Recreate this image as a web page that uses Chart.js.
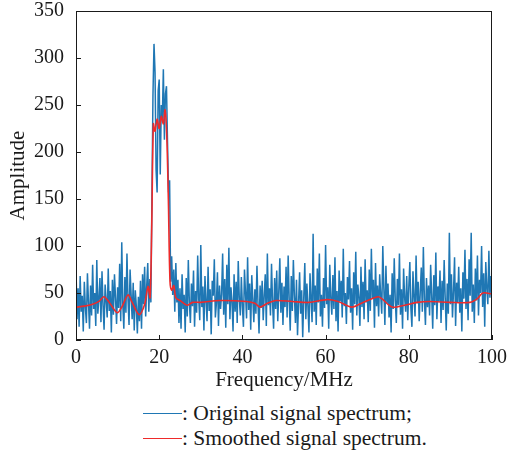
<!DOCTYPE html>
<html>
<head>
<meta charset="utf-8">
<script src="https://cdn.jsdelivr.net/npm/chart.js"></script>
<style>
  body { margin: 0; background: #fff; }
  #wrap { position: relative; width: 508px; height: 452px; overflow: hidden; font-family: "Liberation Serif", "Times New Roman", serif; color: #1a1a1a; }
  #spectrum { position: absolute; left: 0; top: -5px; }
  #legend { position: absolute; left: 143px; top: 401px; font-size: 21.5px; line-height: 25px; }
  .item { display: flex; align-items: center; white-space: nowrap; }
  .swatch { width: 39px; height: 0; border-top: 1.5px solid; }
</style>
</head>
<body>
<div id="wrap">
  <canvas id="spectrum" width="508" height="400"></canvas>
  <div id="legend"></div>
</div>
<script>
// sample spacing of the original spectrum (MHz)
const STEP = 0.25;

// original spectrum, 0 .. 100 MHz
const originalAmp = [
  78, 22, 55, 14, 68, 30, 47, 9, 62, 35, 18, 71, 40, 12, 58, 26, 80, 33, 50, 15,
  85, 28, 44, 66, 19, 73, 37, 11, 59, 42, 24, 76, 31, 52, 8, 64, 27, 70, 45, 17,
  56, 34, 81, 20, 104, 38, 12, 67, 29, 92, 43, 16, 75, 48, 22, 61, 10, 53, 36, 7,
  46, 20, 63, 12, 70, 38, 78, 25, 58, 82, 30, 65, 40, 150, 260, 315, 285, 181, 157, 265,
  277, 176, 250, 235, 288, 213, 262, 270, 210, 157, 170, 62, 89, 48, 75, 30, 82, 40, 64, 18,
  55, 12, 70, 33, 48, 8, 66, 25, 85, 40, 18, 60, 36, 74, 14, 52, 29, 90, 44, 21,
  101, 35, 57, 10, 68, 42, 20, 78, 31, 54, 6, 63, 47, 86, 24, 39, 72, 15, 58, 33,
  49, 92, 27, 65, 13, 80, 38, 98, 22, 56, 41, 9, 70, 30, 62, 18, 84, 45, 26, 67,
  36, 14, 75, 50, 23, 88, 32, 60, 11, 69, 44, 19, 54, 28, 79, 38, 7, 58, 34, 63,
  21, 48, 70, 15, 92, 37, 55, 26, 81, 40, 12, 66, 33, 74, 20, 52, 87, 29, 61, 16,
  57, 35, 78, 24, 90, 43, 10, 68, 31, 85, 47, 18, 64, 5, 39, 72, 28, 53, 3, 45,
  82, 22, 60, 36, 8, 71, 44, 19, 113, 30, 58, 16, 76, 40, 92, 25, 48, 14, 66, 34,
  101, 38, 56, 12, 80, 45, 27, 69, 33, 88, 20, 52, 9, 74, 41, 63, 24, 97, 36, 50,
  17, 67, 43, 84, 29, 55, 11, 72, 38, 94, 26, 59, 46, 15, 78, 35, 62, 22, 86, 40,
  53, 19, 75, 31, 97, 44, 64, 13, 82, 36, 58, 25, 70, 47, 28, 100, 55, 16, 79, 39,
  60, 24, 48, 8, 71, 33, 87, 42, 18, 65, 37, 92, 27, 54, 12, 76, 45, 30, 68, 21,
  56, 83, 34, 14, 73, 46, 25, 90, 39, 62, 20, 51, 77, 30, 99, 43, 16, 66, 35, 58,
  26, 80, 48, 12, 69, 37, 93, 22, 57, 41, 74, 18, 63, 32, 85, 45, 10, 60, 28, 114,
  38, 70, 24, 52, 88, 15, 61, 40, 78, 29, 55, 9, 72, 44, 96, 33, 65, 21, 86, 47,
  114, 30, 59, 18, 76, 42, 90, 26, 64, 50, 100, 35, 71, 14, 83, 56, 38, 95, 45, 68,
  60
];

// smoothed spectrum
const smoothFreq = [0, 2, 4, 5.5, 6.7, 8, 9.9, 11, 12.5, 13.5, 15.2, 16.5, 17.3, 17.8, 18.2, 18.6,
  19, 19.5, 20, 20.5, 21, 21.4, 21.8, 22.2, 22.6, 23, 23.5, 24, 25, 26.7, 28, 30, 34.6, 41, 43,
  44.2, 46, 48, 52, 56, 60.3, 63, 66.3, 69, 72.6, 73.5, 76, 79, 82, 85, 90, 94.7, 96.5, 97.8, 100];
const smoothAmp = [35, 36, 38, 41, 46, 40, 29, 35, 48, 40, 27, 38, 57, 45, 120, 230,
  222, 235, 225, 238, 230, 245, 220, 150, 62, 53, 58, 45, 42, 37, 40, 40, 42, 41, 39,
  35, 39, 42, 41, 40, 43, 41, 35, 40, 46, 44, 35, 37, 40, 41, 40, 40, 44, 50, 49];

const xTicks = [0, 20, 40, 60, 80, 100];
const yTicks = [0, 50, 100, 150, 200, 250, 300, 350];

const seriesNames = [': Original signal spectrum;', ': Smoothed signal spectrum.'];
const seriesColors = ['#1f77b4', '#ee2a2a'];

const FONT = '"Liberation Serif", "Times New Roman", serif';
const INK = '#1a1a1a';

// frame round the plot plus inward tick marks
const framePlugin = {
  id: 'frame',
  afterDraw(chart) {
    const { ctx, chartArea: a, scales } = chart;
    ctx.save();
    ctx.strokeStyle = INK;
    ctx.lineWidth = 1;
    ctx.strokeRect(a.left + 0.5, a.top + 0.5, a.right - a.left - 1, a.bottom - a.top - 1);
    ctx.beginPath();
    xTicks.forEach(v => {
      const px = Math.round(scales.x.getPixelForValue(v)) + 0.5;
      ctx.moveTo(px, a.bottom);
      ctx.lineTo(px, a.bottom - 5);
    });
    yTicks.forEach(v => {
      const py = Math.round(scales.y.getPixelForValue(v)) + 0.5;
      ctx.moveTo(a.left, py);
      ctx.lineTo(a.left + 5, py);
    });
    ctx.stroke();
    ctx.restore();
  }
};

const originalPoints = originalAmp.map((y, i) => ({ x: i * STEP, y }));
const smoothPoints = smoothAmp.map((y, i) => ({ x: smoothFreq[i], y }));

new Chart(document.getElementById('spectrum'), {
  type: 'line',
  data: {
    datasets: [
      {
        label: seriesNames[0],
        data: originalPoints,
        borderColor: seriesColors[0],
        borderWidth: 1.5,
        pointRadius: 0,
        tension: 0,
        order: 1
      },
      {
        label: seriesNames[1],
        data: smoothPoints,
        borderColor: seriesColors[1],
        borderWidth: 1.6,
        pointRadius: 0,
        tension: 0.3,
        order: 0
      }
    ]
  },
  options: {
    responsive: false,
    animation: false,
    layout: { padding: { top: 0, right: 16, left: 0, bottom: 0 } },
    plugins: { legend: { display: false }, tooltip: { enabled: false } },
    scales: {
      x: {
        type: 'linear',
        min: 0,
        max: 100,
        afterBuildTicks: s => { s.ticks = xTicks.map(v => ({ value: v })); },
        afterFit: s => { s.height = 55; },
        grid: { display: false },
        border: { display: false },
        ticks: { color: INK, font: { family: FONT, size: 20 }, padding: -2, maxRotation: 0 },
        title: { display: true, text: 'Frequency/MHz', color: INK, font: { family: FONT, size: 21 }, padding: { bottom: 2 } }
      },
      y: {
        min: 0,
        max: 350,
        afterBuildTicks: s => { s.ticks = yTicks.map(v => ({ value: v })); },
        afterFit: s => { s.width = 76; },
        grid: { display: false },
        border: { display: false },
        ticks: { color: INK, font: { family: FONT, size: 20 }, padding: 4 },
        title: { display: true, text: 'Amplitude', color: INK, font: { family: FONT, size: 21 }, padding: { top: 6 } }
      }
    }
  },
  plugins: [framePlugin]
});

document.getElementById('legend').innerHTML = seriesNames.map((name, i) =>
  `<div class="item"><span class="swatch" style="border-color:${seriesColors[i]}"></span><span>${name}</span></div>`
).join('');
</script>
</body>
</html>
